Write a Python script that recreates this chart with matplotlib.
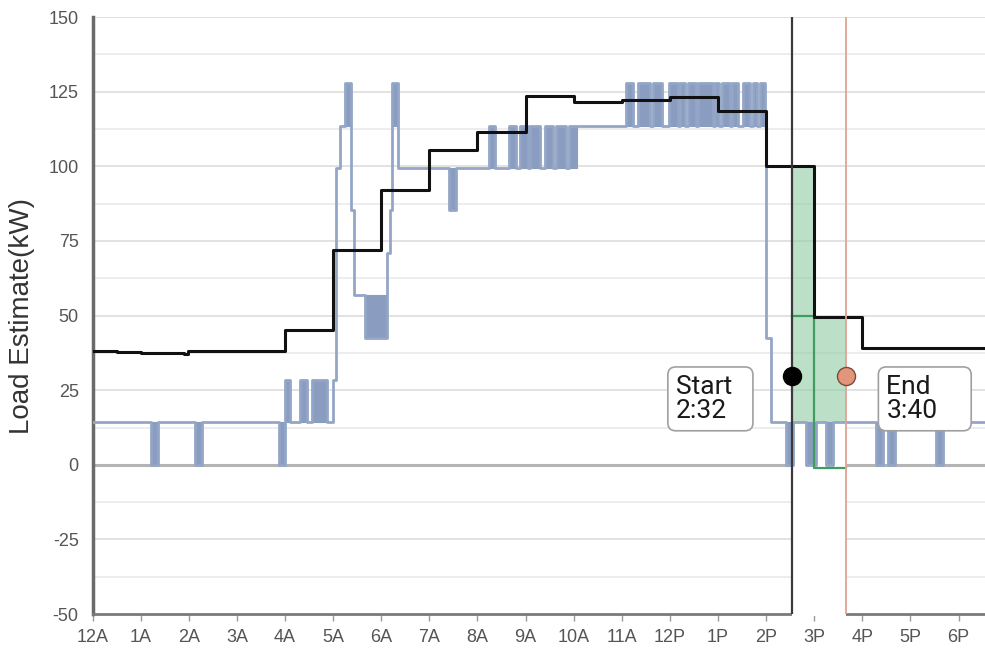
import numpy as np
import matplotlib
matplotlib.use("Agg")
import matplotlib.pyplot as plt

# ---------------- data ----------------
hour_ticks = list(range(0, 19))
hour_labels = ["12A", "1A", "2A", "3A", "4A", "5A", "6A", "7A", "8A", "9A", "10A",
               "11A", "12P", "1P", "2P", "3P", "4P", "5P", "6P"]
y_ticks = [-50, -25, 0, 25, 50, 75, 100, 125, 150]
x_end = 18.55

# Load estimate (black, step-post)
est_t = [0.0, 0.5, 1.0, 1.5, 1.9, 1.99, 4.0, 4.99, 6.0, 7.0, 8.0, 9.0, 10.0, 11.0,
         12.0, 13.0, 14.0, 15.0, 16.0, 18.55]
est_v = [38.1, 37.8, 37.5, 37.3, 37.0, 38.0, 45.2, 72.0, 92.1, 105.3, 111.5, 123.4,
         121.4, 122.1, 123.2, 118.4, 100.2, 49.4, 39.0, 39.0]

# Metered load (blue): baseline steps
base_t = [0.0, 4.995, 5.07, 5.14, 5.37, 5.44, 6.11, 6.18, 6.23, 6.35, 10.06, 14.0, 14.11, 18.55]
base_v = [14.2, 28.4, 99.4, 113.6, 85.2, 56.8, 71.0, 85.2, 113.6, 99.4, 113.6, 42.6, 14.2, 14.2]

# Metered load (blue): rapid excursions (start hour, end hour, level)
pulse_start = [1.215, 2.13, 3.88, 4.0, 4.31, 4.56, 5.24, 5.66, 6.23, 7.41,
               8.24, 8.66, 8.88, 9.09, 9.40, 9.64, 9.90,
               11.08, 11.33, 11.64, 11.99, 12.20, 12.37, 12.58, 12.93, 13.09,
               13.30, 13.51, 13.72, 13.87,
               14.42, 14.83, 15.25, 16.29, 16.53, 17.53]
pulse_end = [1.36, 2.27, 4.0, 4.10, 4.45, 4.87, 5.37, 6.11, 6.35, 7.55,
             8.37, 8.81, 9.05, 9.30, 9.57, 9.85, 10.06,
             11.23, 11.58, 11.83, 12.16, 12.31, 12.55, 12.89, 13.03, 13.24,
             13.41, 13.66, 13.82, 13.97,
             14.55, 15.04, 15.39, 16.42, 16.67, 17.67]
pulse_level = [0, 0, 0, 28.4, 28.4, 28.4, 127.8, 42.6, 127.8, 85.2,
               113.6, 113.6, 113.6, 113.6, 113.6, 113.6, 113.6,
               127.8, 127.8, 127.8, 127.8, 127.8, 127.8, 127.8, 127.8, 127.8,
               127.8, 127.8, 127.8, 127.8,
               0, 0, 0, 0, 0, 0]

# Event window
event_start = 14 + 32 / 60   # 2:32
event_end = 15 + 40 / 60     # 3:40
event_mid = 15.0
green_t = [event_start, event_mid, event_end]
green_v = [50.0, -1.1, -1.1]
marker_y = 29.8
fill_floor = 14.2

# ---------------- helpers ----------------
def step_value(ts, vs, t):
    idx = np.searchsorted(ts, t, side="right") - 1
    return vs[max(idx, 0)]

base_t_a = np.array(base_t)
base_v_a = np.array(base_v)

pts = sorted(set(base_t) | set(pulse_start) | set(pulse_end))
blue_t, blue_v = [], []
for t in pts:
    val = step_value(base_t_a, base_v_a, t)
    for s, e, lv in zip(pulse_start, pulse_end, pulse_level):
        if s <= t < e:
            val = lv
    blue_t.append(t)
    blue_v.append(val)

# ---------------- figure ----------------
fig = plt.figure(figsize=(9.85, 6.54), dpi=100)
ax = fig.add_axes([0.094, 0.061, 0.906, 0.913])
ax.set_xlim(0, x_end)
ax.set_ylim(-50, 150)

# gridlines
for y in np.arange(-50, 150.1, 12.5):
    if y == 0 or y == -50:
        continue
    col = "#e2e2e2" if y % 25 == 0 else "#ededed"
    ax.axhline(y, color=col, lw=1.4, zorder=0.5)
ax.axhline(0, color="#b4b4b4", lw=2.2, zorder=0.6)

# mask under the event window
ax.fill_between([event_start, event_end], -50.8, fill_floor, color="white",
                zorder=2.6, lw=0, clip_on=False)

# green event fill
est_t_a = np.array(est_t)
est_v_a = np.array(est_v)
ft = [event_start, event_mid, event_end]
fv = [step_value(est_t_a, est_v_a, t) for t in ft]
ax.fill_between(ft, fill_floor, fv, step="post", color="#8fcca3", alpha=0.6,
                lw=0, zorder=2.7)

# blue pulses (dense oscillation blocks)
bar_bottom = [step_value(base_t_a, base_v_a, s) for s in pulse_start]
heights = [lv - b for lv, b in zip(pulse_level, bar_bottom)]
widths = [e - s for s, e in zip(pulse_start, pulse_end)]
ax.bar(pulse_start, heights, width=widths, bottom=bar_bottom, align="edge",
       color="#8a9cc0", edgecolor="#8a9cc0", lw=0.8, zorder=3)
ax.step(blue_t, blue_v, where="post", color="#94a6c7", lw=2.0, zorder=3.1)

# green measured line
ax.step(green_t, green_v, where="post", color="#3f9e5f", lw=1.6, zorder=3.3)

# estimate line
ax.step(est_t, est_v, where="post", color="#111111", lw=2.2, zorder=4)

# event boundaries
ax.axvline(event_start, color="#3a3a3a", lw=1.6, zorder=4.5)
ax.axvline(event_end, color="#e0a392", lw=1.3, zorder=4.5)

# markers
ax.plot([event_start], [marker_y], "o", ms=13, color="black", zorder=6)
ax.plot([event_end], [marker_y], "o", ms=13, mfc="#e2957a", mec="#7b4a3c",
        mew=1.0, zorder=6)

box = dict(boxstyle="round,pad=0.3,rounding_size=0.3", fc="white",
           ec="#a0a0a0", lw=1.2)
ax.annotate("Start  \n2:32", xy=(event_start, marker_y), xytext=(-116, 1),
            textcoords="offset pixels", ha="left", va="top", fontsize=19,
            family="Roboto", color="#1a1a1a", bbox=box, zorder=7,
            linespacing=1.0)
ax.annotate("End     \n3:40", xy=(event_end, marker_y), xytext=(40, 1),
            textcoords="offset pixels", ha="left", va="top", fontsize=19,
            family="Roboto", color="#1a1a1a", bbox=box, zorder=7,
            linespacing=1.0)

# axes styling
for s in ["top", "right"]:
    ax.spines[s].set_visible(False)
ax.spines["left"].set_color("#6a6a6a")
ax.spines["left"].set_linewidth(2.5)
ax.spines["bottom"].set_color("#7a7a7a")
ax.spines["bottom"].set_linewidth(2.0)

ax.set_xticks(hour_ticks)
ax.set_xticklabels(hour_labels)
ax.set_yticks(y_ticks)
ax.set_yticklabels([str(v) for v in y_ticks])
ax.tick_params(axis="x", length=5, width=1, color="#999999", pad=6,
               labelsize=13, labelcolor="#555555")
ax.tick_params(axis="y", length=0, pad=10, labelsize=13, labelcolor="#555555")
for lab in ax.get_xticklabels() + ax.get_yticklabels():
    lab.set_family("Liberation Sans")

ax.set_ylabel("Load Estimate(kW)", fontsize=20, family="Liberation Sans",
              color="#333333", labelpad=10)

fig.savefig("out.png", dpi=100)
